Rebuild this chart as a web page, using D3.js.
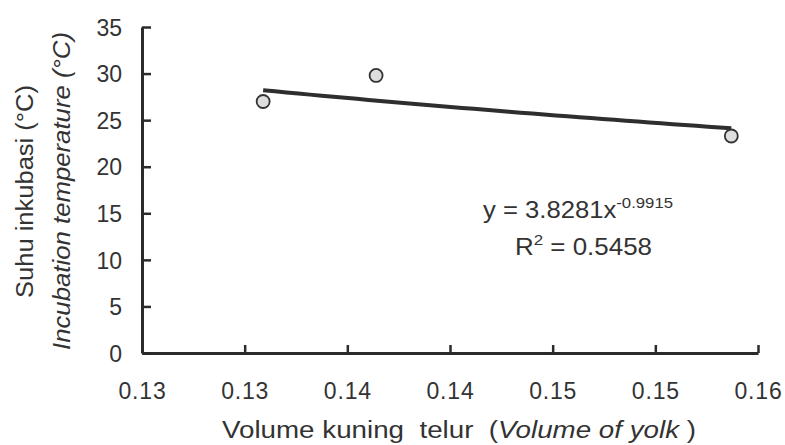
<!DOCTYPE html>
<html>
<head>
<meta charset="utf-8">
<script src="https://cdn.jsdelivr.net/npm/d3@7"></script>
<style>
  html, body { margin: 0; padding: 0; background: #fff; }
  svg { display: block; font-family: "Liberation Sans", Arial, sans-serif; }
</style>
</head>
<body>
<svg id="chart" width="785" height="445"></svg>
<script>
/* ── Data ──────────────────────────────────────────────────── */
const yolkVolume = [0.1334, 0.1389, 0.1562];
const incubTemp  = [27.0, 29.8, 23.3];

// Power trendline shown on the chart: y = a * x^b
const TREND_A = 3.8281;
const TREND_B = -0.9915;

const xTicks = [0.1275, 0.1325, 0.1375, 0.1425, 0.1475, 0.1525, 0.1575];
const xTickLabels = ['0.13', '0.13', '0.14', '0.14', '0.15', '0.15', '0.16'];
const yTicks = [0, 5, 10, 15, 20, 25, 30, 35];

/* ── Setup ─────────────────────────────────────────────────── */
const svg = d3.select('#chart');
const INK = '#2b2b2b';
const TXT = '#333';

const x = d3.scaleLinear().domain([xTicks[0], xTicks[xTicks.length - 1]]).range([142, 758]);
const y = d3.scaleLinear().domain([0, 35]).range([353, 27]);

/* ── Axes ──────────────────────────────────────────────────── */
const xAxis = svg.append('g')
  .attr('transform', `translate(0,${y(0)})`)
  .call(d3.axisBottom(x)
    .tickValues(xTicks)
    .tickFormat((d, i) => xTickLabels[i])
    .tickSizeInner(-8).tickSizeOuter(0).tickPadding(30));

const yAxis = svg.append('g')
  .attr('transform', `translate(${x.range()[0]},0)`)
  .call(d3.axisLeft(y)
    .tickValues(yTicks)
    .tickSizeInner(-9).tickSizeOuter(0).tickPadding(20));

[xAxis, yAxis].forEach(g => {
  g.select('.domain').attr('stroke', INK).attr('stroke-width', 3);
  g.selectAll('.tick line').attr('stroke', INK).attr('stroke-width', 2.5);
  g.selectAll('.tick text')
    .attr('fill', TXT)
    .style('font-size', '23px');
});
xAxis.selectAll('.tick text').style('letter-spacing', '0.8px');
yAxis.selectAll('.tick text').attr('dy', '0.36em');

/* ── Trendline ─────────────────────────────────────────────── */
const [xMin, xMax] = d3.extent(yolkVolume);
const trend = d3.range(0, 41).map(i => {
  const xv = xMin + (xMax - xMin) * i / 40;
  return [xv, TREND_A * Math.pow(xv, TREND_B)];
});

svg.append('path')
  .datum(trend)
  .attr('fill', 'none')
  .attr('stroke', '#2e2e2e')
  .attr('stroke-width', 4)
  .attr('d', d3.line().x(d => x(d[0])).y(d => y(d[1])));

/* ── Points ────────────────────────────────────────────────── */
svg.append('g')
  .selectAll('circle')
  .data(yolkVolume.map((v, i) => [v, incubTemp[i]]))
  .join('circle')
  .attr('cx', d => x(d[0]))
  .attr('cy', d => y(d[1]))
  .attr('r', 6.5)
  .attr('fill', '#dedede')
  .attr('stroke', '#333')
  .attr('stroke-width', 1.8);

/* ── Equation labels ───────────────────────────────────────── */
const eq = svg.append('text')
  .attr('x', 483).attr('y', 218)
  .attr('textLength', 190).attr('lengthAdjust', 'spacingAndGlyphs')
  .attr('fill', TXT)
  .style('font-size', '23px');
eq.append('tspan').text('y = 3.8281x');
eq.append('tspan').attr('dy', -10).style('font-size', '15px').text('-0.9915');

const r2 = svg.append('text')
  .attr('x', 515).attr('y', 255)
  .attr('textLength', 137).attr('lengthAdjust', 'spacingAndGlyphs')
  .attr('fill', TXT)
  .style('font-size', '23px');
r2.append('tspan').text('R');
r2.append('tspan').attr('dy', -10).style('font-size', '15px').text('2');
r2.append('tspan').attr('dy', 10).text(' = 0.5458');

/* ── Axis titles ───────────────────────────────────────────── */
const xt = svg.append('text')
  .attr('x', 222).attr('y', 438)
  .attr('textLength', 474).attr('lengthAdjust', 'spacingAndGlyphs')
  .attr('fill', TXT)
  .style('font-size', '23px')
  .attr('xml:space', 'preserve');
xt.append('tspan').text('Volume kuning\u00a0 telur \u00a0(');
xt.append('tspan').style('font-style', 'italic').text('Volume of yolk');
xt.append('tspan').text(' )');

svg.append('text')
  .attr('transform', 'translate(33,298) rotate(-90)')
  .attr('textLength', 213).attr('lengthAdjust', 'spacingAndGlyphs')
  .attr('fill', TXT)
  .style('font-size', '23px')
  .text('Suhu inkubasi (°C)');

svg.append('text')
  .attr('transform', 'translate(70,350) rotate(-90)')
  .attr('textLength', 318).attr('lengthAdjust', 'spacingAndGlyphs')
  .attr('fill', TXT)
  .style('font-size', '23px')
  .style('font-style', 'italic')
  .text('Incubation temperature (°C)');
</script>
</body>
</html>
